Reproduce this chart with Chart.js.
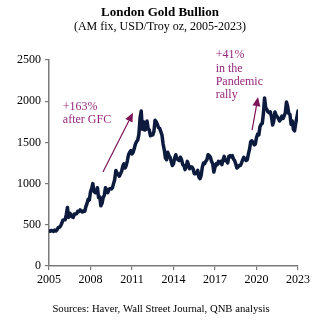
<!DOCTYPE html>
<html>
<head>
<meta charset="utf-8">
<script src="https://cdn.jsdelivr.net/npm/chart.js@4.4.1/dist/chart.umd.min.js"></script>
<style>
  html, body { margin: 0; padding: 0; background: #fff; }
  #wrap { width: 333px; height: 322px; }
</style>
</head>
<body>
<div id="wrap"><canvas id="gold" width="333" height="322"></canvas></div>
<script>
// London gold AM fix, USD/troy oz, monthly readings (Jan..Dec)
const startYear = 2005;
const gold2005 = [425, 422, 432, 428, 420, 435, 425, 440, 465, 470, 485, 515];
const gold2006 = [555, 560, 560, 625, 710, 590, 640, 625, 595, 590, 630, 630];
const gold2007 = [635, 665, 660, 680, 665, 655, 670, 665, 720, 760, 810, 800];
const gold2008 = [900, 940, 1000, 905, 890, 890, 950, 830, 840, 730, 760, 830];
const gold2009 = [860, 950, 920, 890, 930, 940, 935, 950, 1000, 1050, 1160, 1130];
const gold2010 = [1110, 1090, 1120, 1150, 1210, 1240, 1190, 1220, 1280, 1350, 1380, 1400];
const gold2011 = [1360, 1380, 1430, 1480, 1510, 1530, 1600, 1800, 1880, 1660, 1750, 1650];
const gold2012 = [1660, 1760, 1670, 1650, 1580, 1600, 1590, 1630, 1770, 1750, 1720, 1680];
const gold2013 = [1670, 1630, 1590, 1480, 1410, 1310, 1290, 1380, 1340, 1320, 1270, 1220];
const gold2014 = [1240, 1310, 1350, 1300, 1290, 1280, 1320, 1290, 1230, 1220, 1170, 1200];
const gold2015 = [1270, 1230, 1180, 1200, 1200, 1180, 1120, 1120, 1130, 1160, 1080, 1060];
const gold2016 = [1100, 1200, 1250, 1240, 1270, 1290, 1350, 1340, 1320, 1270, 1240, 1140];
const gold2017 = [1200, 1240, 1230, 1270, 1250, 1270, 1230, 1290, 1330, 1280, 1280, 1250];
const gold2018 = [1330, 1340, 1325, 1340, 1300, 1280, 1240, 1190, 1200, 1220, 1220, 1250];
const gold2019 = [1290, 1320, 1300, 1280, 1290, 1360, 1420, 1510, 1520, 1500, 1470, 1480];
const gold2020 = [1560, 1600, 1590, 1690, 1720, 1730, 1850, 2040, 1920, 1900, 1870, 1860];
const gold2021 = [1870, 1810, 1710, 1760, 1870, 1830, 1810, 1790, 1760, 1780, 1820, 1790];
const gold2022 = [1820, 1860, 1990, 1940, 1850, 1840, 1720, 1760, 1660, 1640, 1730, 1800];
const gold2023 = [1880, 1930];

const yearTicks = [2005, 2008, 2011, 2014, 2017, 2020, 2023];
const valueTicks = [0, 500, 1000, 1500, 2000, 2500];

// annotation arrows [fromYear, fromValue, toYear, toValue]
const gfcArrow = [2008.9, 1140, 2011.07, 1860];
const pandemicArrow = [2019.68, 1650, 2020.11, 2050];
const gfcText = ['+163%', 'after GFC'];
const pandemicText = ['+41%', 'in the', 'Pandemic', 'rally'];

const title = 'London Gold Bullion';
const subtitle = '(AM fix, USD/Troy oz, 2005-2023)';
const source = 'Sources: Haver, Wall Street Journal, QNB analysis';

const allYears = [gold2005, gold2006, gold2007, gold2008, gold2009, gold2010, gold2011,
  gold2012, gold2013, gold2014, gold2015, gold2016, gold2017, gold2018, gold2019,
  gold2020, gold2021, gold2022, gold2023];
const points = [];
allYears.forEach((arr, i) => {
  arr.forEach((v, m) => points.push({x: startYear + i + m / 12, y: v}));
});

const serif = '"Liberation Serif", "Times New Roman", serif';
const purple = '#96287c';
const arrowCol = '#7d1458';

const extras = {
  id: 'extras',
  afterDatasetsDraw(chart) {
    const ctx = chart.ctx;
    const xs = chart.scales.x, ys = chart.scales.y;
    ctx.save();
    // headings
    ctx.fillStyle = '#000';
    ctx.textAlign = 'center';
    ctx.textBaseline = 'middle';
    ctx.font = 'bold 13px ' + serif;
    ctx.fillText(title, 160, 13);
    ctx.font = '12px ' + serif;
    ctx.fillText(subtitle, 160, 27);
    ctx.font = '10.7px ' + serif;
    ctx.fillText(source, 161, 309);

    function arrow(a) {
      const x0 = xs.getPixelForValue(a[0]), y0 = ys.getPixelForValue(a[1]);
      const x1 = xs.getPixelForValue(a[2]), y1 = ys.getPixelForValue(a[3]);
      const ang = Math.atan2(y1 - y0, x1 - x0);
      const hl = 9, hw = 4;
      const bx = x1 - hl * Math.cos(ang), by = y1 - hl * Math.sin(ang);
      ctx.strokeStyle = arrowCol;
      ctx.fillStyle = arrowCol;
      ctx.lineWidth = 1.2;
      ctx.beginPath();
      ctx.moveTo(x0, y0);
      ctx.lineTo(bx, by);
      ctx.stroke();
      ctx.beginPath();
      ctx.moveTo(x1, y1);
      ctx.lineTo(bx + hw * Math.sin(ang), by - hw * Math.cos(ang));
      ctx.lineTo(bx - hw * Math.sin(ang), by + hw * Math.cos(ang));
      ctx.closePath();
      ctx.fill();
    }
    arrow(gfcArrow);
    arrow(pandemicArrow);

    ctx.fillStyle = purple;
    ctx.textAlign = 'left';
    ctx.font = '12px ' + serif;
    let tx = xs.getPixelForValue(2006.0), ty = ys.getPixelForValue(1935);
    gfcText.forEach((s, i) => ctx.fillText(s, tx, ty + i * 13));
    tx = xs.getPixelForValue(2017.05); ty = ys.getPixelForValue(2560);
    pandemicText.forEach((s, i) => ctx.fillText(s, tx, ty + i * 13.3));
    ctx.restore();
  }
};

new Chart(document.getElementById('gold'), {
  type: 'line',
  data: {
    datasets: [{
      data: points,
      borderColor: '#0c1a3e',
      borderWidth: 3.5,
      borderJoinStyle: 'round',
      borderCapStyle: 'round',
      pointRadius: 0,
      tension: 0,
      fill: false
    }]
  },
  options: {
    responsive: false,
    animation: false,
    devicePixelRatio: 1,
    layout: {padding: {top: 60, left: 0, right: 35, bottom: 26}},
    plugins: {legend: {display: false}, tooltip: {enabled: false}},
    scales: {
      x: {
        type: 'linear',
        min: 2005, max: 2023,
        afterBuildTicks: s => { s.ticks = yearTicks.map(v => ({value: v})); },
        afterFit: s => { s.height = 30; },
        ticks: {
          color: '#000', font: {family: serif, size: 12}, padding: 3,
          maxRotation: 0, autoSkip: false,
          callback: v => String(v)
        },
        grid: {display: true, drawOnChartArea: false, drawTicks: true, tickLength: 4, color: '#7a7a7a', lineWidth: 1.2},
        border: {display: true, color: '#7a7a7a', width: 1.5}
      },
      y: {
        min: 0, max: 2500,
        afterBuildTicks: s => { s.ticks = valueTicks.map(v => ({value: v})); },
        afterFit: s => { s.width = 49; },
        ticks: {color: '#000', font: {family: serif, size: 12}, padding: 4, callback: v => String(v)},
        grid: {display: true, drawOnChartArea: false, drawTicks: true, tickLength: 4, color: '#7a7a7a', lineWidth: 1.2},
        border: {display: true, color: '#7a7a7a', width: 1.5}
      }
    }
  },
  plugins: [extras]
});
</script>
</body>
</html>
